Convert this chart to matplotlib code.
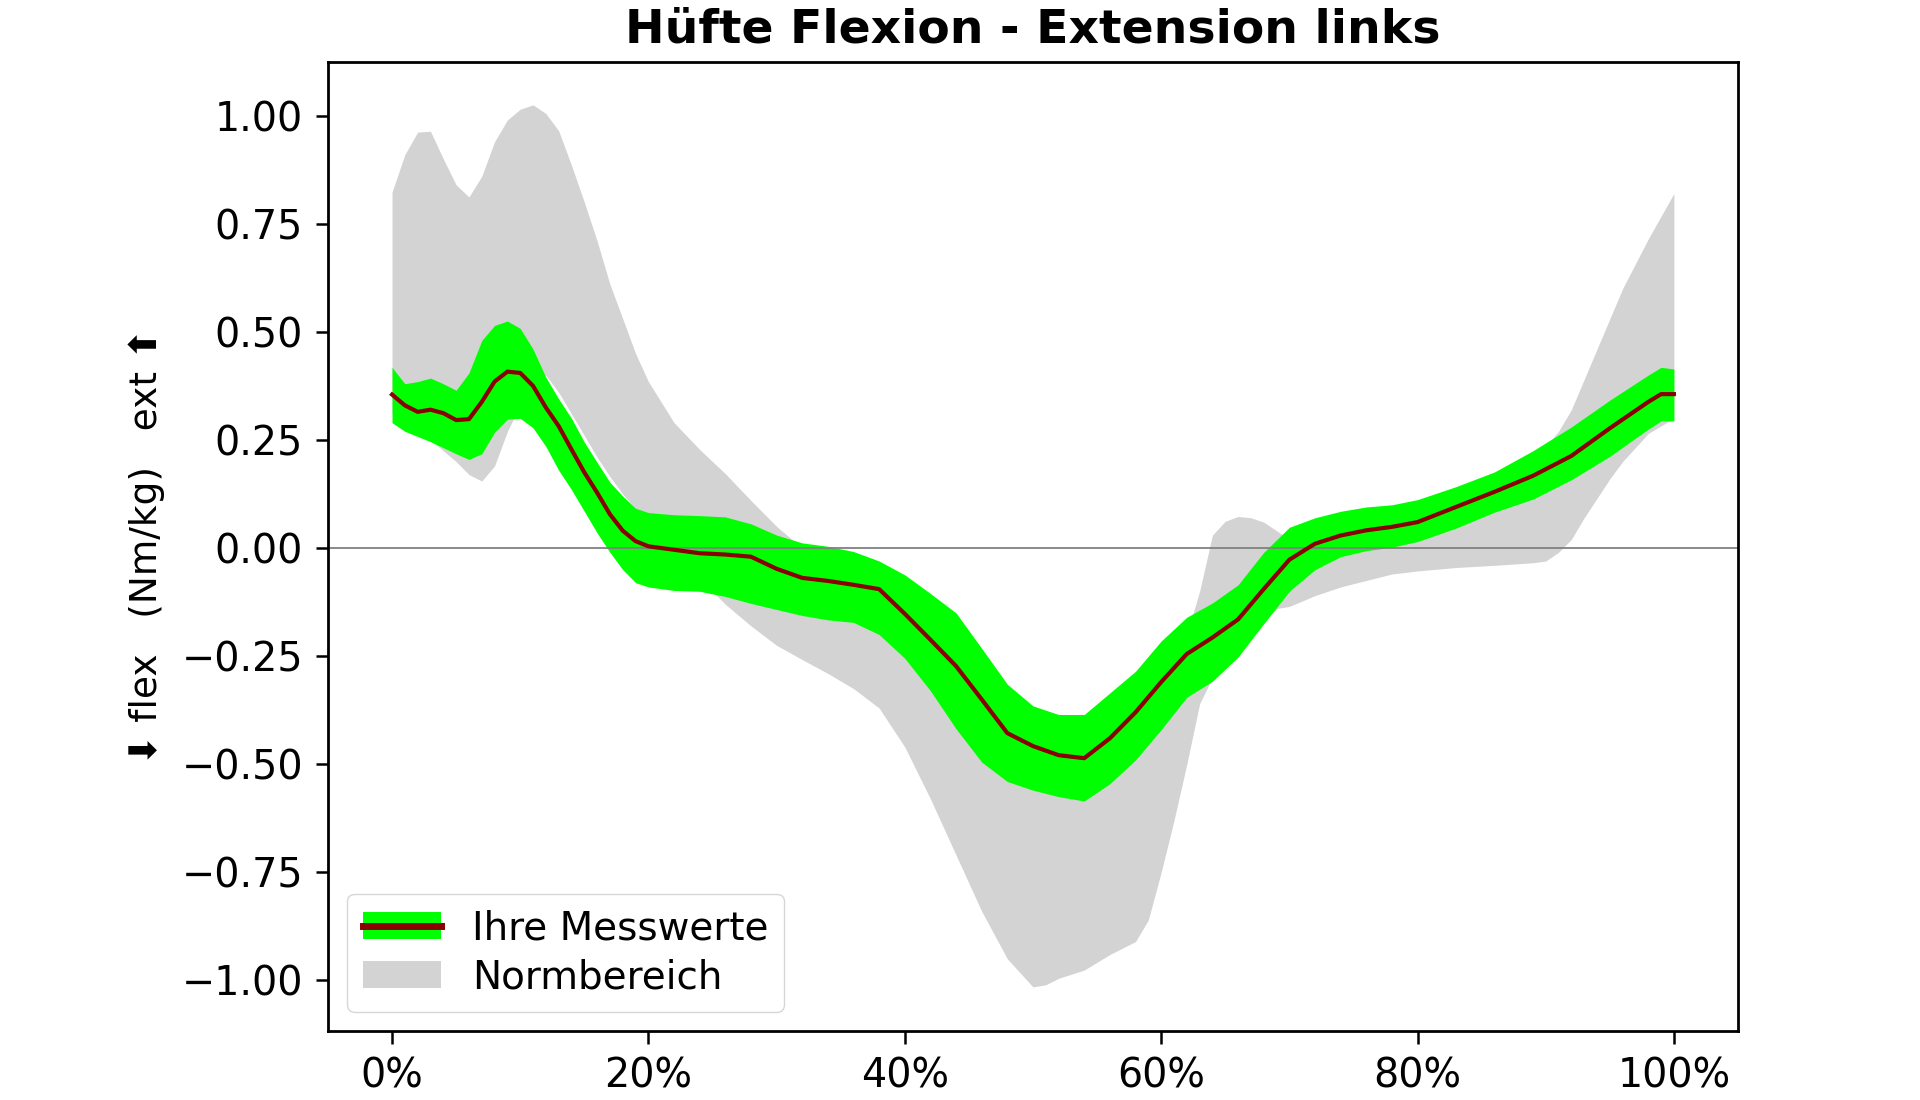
import matplotlib
matplotlib.use("Agg")
import matplotlib.pyplot as plt
from matplotlib.lines import Line2D
from matplotlib.patches import Patch

# gait cycle in percent
pat_x = [0, 1, 2, 3, 4, 5, 6, 7, 8, 9, 10, 11, 12, 13, 14, 15, 16, 17, 18, 19, 20,
         22, 24, 26, 28, 30, 32, 34, 36, 38, 40, 42, 44, 46, 48, 50, 52, 54, 56, 58,
         60, 62, 64, 66, 68, 70, 72, 74, 76, 78, 80, 83, 86, 89, 92, 95, 98, 99, 100]
pat_mean = [0.355, 0.33, 0.315, 0.32, 0.312, 0.296, 0.298, 0.338, 0.385, 0.408, 0.405,
            0.375, 0.325, 0.282, 0.228, 0.175, 0.128, 0.078, 0.04, 0.016, 0.004,
            -0.004, -0.012, -0.015, -0.02, -0.048, -0.069, -0.076, -0.085, -0.095, -0.152,
            -0.212, -0.273, -0.35, -0.428, -0.458, -0.479, -0.486, -0.44, -0.38,
            -0.31, -0.245, -0.207, -0.165, -0.095, -0.027, 0.01, 0.029, 0.041, 0.049,
            0.06, 0.095, 0.13, 0.167, 0.213, 0.277, 0.338, 0.356, 0.356]
pat_upper = [0.418, 0.38, 0.385, 0.393, 0.38, 0.365, 0.405, 0.48, 0.515, 0.525, 0.508,
             0.46, 0.395, 0.345, 0.30, 0.245, 0.198, 0.152, 0.12, 0.092, 0.082,
             0.077, 0.075, 0.072, 0.056, 0.03, 0.012, 0.004, -0.008, -0.03, -0.062,
             -0.105, -0.15, -0.232, -0.315, -0.365, -0.385, -0.385, -0.335, -0.285,
             -0.215, -0.16, -0.127, -0.085, -0.01, 0.048, 0.07, 0.085, 0.095, 0.1,
             0.112, 0.142, 0.176, 0.225, 0.28, 0.342, 0.40, 0.418, 0.414]
pat_lower = [0.29, 0.27, 0.258, 0.246, 0.232, 0.218, 0.205, 0.218, 0.268, 0.298, 0.3,
             0.278, 0.235, 0.18, 0.135, 0.085, 0.035, -0.01, -0.05, -0.08, -0.09,
             -0.098, -0.1, -0.112, -0.128, -0.142, -0.156, -0.166, -0.172, -0.2, -0.255,
             -0.33, -0.418, -0.495, -0.54, -0.56, -0.575, -0.585, -0.545, -0.49,
             -0.42, -0.345, -0.308, -0.252, -0.175, -0.1, -0.05, -0.02, -0.006, 0.002,
             0.015, 0.046, 0.083, 0.113, 0.158, 0.212, 0.275, 0.294, 0.294]

norm_x = [0, 1, 2, 3, 4, 5, 6, 7, 8, 9, 10, 11, 12, 13, 14, 15, 16, 17, 18, 19, 20,
          22, 24, 26, 28, 30, 32, 34, 36, 38, 40, 42, 44, 46, 48, 50, 51, 52, 54, 56,
          58, 59, 60, 61, 62, 63, 64, 65, 66, 67, 68, 69, 70, 72, 74, 76, 78, 80, 83,
          86, 89, 90, 91, 92, 93, 94, 95, 96, 98, 100]
norm_upper = [0.823, 0.91, 0.962, 0.964, 0.90, 0.84, 0.812, 0.86, 0.94, 0.99, 1.015,
              1.025, 1.005, 0.965, 0.885, 0.80, 0.71, 0.61, 0.53, 0.45, 0.385,
              0.29, 0.228, 0.172, 0.11, 0.05, 0.0, -0.02, -0.04, -0.05, -0.09,
              -0.14, -0.2, -0.29, -0.37, -0.41, -0.42, -0.43, -0.43, -0.38,
              -0.33, -0.30, -0.26, -0.22, -0.20, -0.10, 0.03, 0.062, 0.073, 0.07,
              0.06, 0.04, 0.02, 0.03, 0.05, 0.065, 0.08, 0.09, 0.12,
              0.15, 0.20, 0.235, 0.27, 0.32, 0.39, 0.46, 0.53, 0.60, 0.715, 0.82]
norm_lower = [0.31, 0.29, 0.27, 0.25, 0.225, 0.20, 0.17, 0.155, 0.19, 0.27, 0.33,
              0.39, 0.40, 0.36, 0.31, 0.26, 0.21, 0.165, 0.125, 0.09, 0.05,
              -0.01, -0.07, -0.13, -0.18, -0.225, -0.258, -0.29, -0.325, -0.37, -0.46,
              -0.58, -0.71, -0.84, -0.95, -1.015, -1.01, -0.995, -0.976, -0.94,
              -0.91, -0.86, -0.75, -0.63, -0.50, -0.36, -0.30, -0.26, -0.23, -0.2,
              -0.17, -0.14, -0.135, -0.11, -0.09, -0.075, -0.06, -0.053, -0.045,
              -0.04, -0.034, -0.03, -0.01, 0.02, 0.07, 0.115, 0.16, 0.20, 0.265, 0.30]

x_ticks = [0, 20, 40, 60, 80, 100]
x_labels = ["0%", "20%", "40%", "60%", "80%", "100%"]
y_ticks = [-1.0, -0.75, -0.5, -0.25, 0.0, 0.25, 0.5, 0.75, 1.0]

fs = 28.5
fig = plt.figure(figsize=(19.2, 11), dpi=100)
ax = fig.add_axes([0.1708, 0.0627, 0.7344, 0.8809])

ax.fill_between(norm_x, norm_lower, norm_upper, color="lightgray", lw=0)
ax.axhline(0, color="gray", lw=1.3)
ax.fill_between(pat_x, pat_lower, pat_upper, color="#00ff00", lw=0)
ax.plot(pat_x, pat_mean, color="#8b0000", lw=3)

ax.set_xlim(-5, 105)
ax.set_ylim(-1.117, 1.124)
ax.set_xticks(x_ticks)
ax.set_xticklabels(x_labels)
ax.set_yticks(y_ticks)
ax.set_yticklabels(["%.2f" % v if v >= 0 else "\u2212%.2f" % -v for v in y_ticks])
ax.tick_params(labelsize=fs, length=9, width=1.8, pad=9)
for s in ax.spines.values():
    s.set_linewidth(2)

ax.set_title("Hüfte Flexion - Extension links", fontsize=34, fontweight="bold", pad=14)
ax.set_ylabel("\u2b07 flex   (Nm/kg)   ext \u2b06", fontsize=27, labelpad=12)

h1 = (Patch(color="#00ff00", lw=0), Line2D([], [], color="#8b0000", lw=5))
h2 = Patch(color="lightgray", lw=0)
ax.legend([h1, h2], ["Ihre Messwerte", "Normbereich"], loc="lower left",
          fontsize=28, handlelength=2.0, borderaxespad=0.5, labelspacing=0.28)

fig.savefig("out.png", dpi=100)
